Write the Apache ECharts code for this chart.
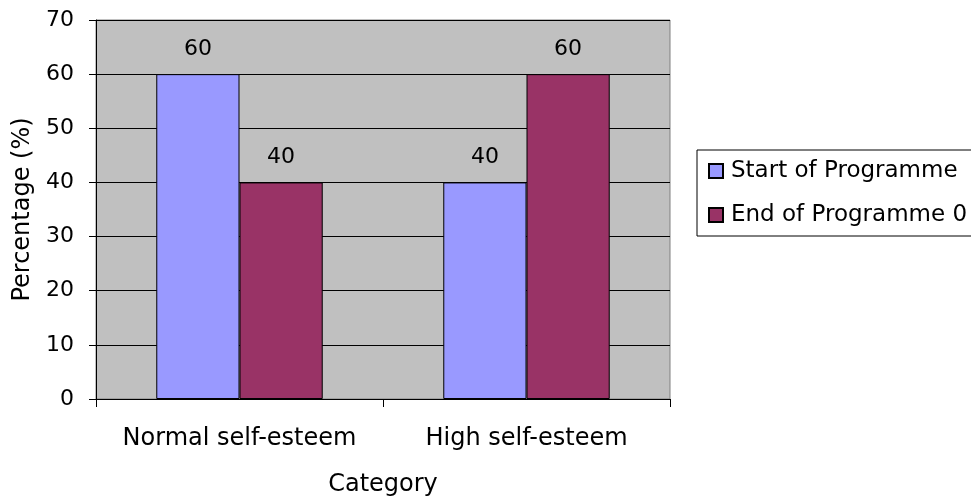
<!DOCTYPE html>
<html>
<head>
<meta charset="utf-8">
<script src="https://cdn.jsdelivr.net/npm/echarts@6/dist/echarts.min.js"></script>
<style>
  html, body { margin: 0; padding: 0; background: #fff; }
  #chart { width: 971px; height: 499px; }
</style>
</head>
<body>
<div id="chart"></div>
<script>
// Self-esteem category shares at the start and end of the programme
const categories = ['Normal self-esteem', 'High self-esteem'];
const startValues = [60, 40];
const endValues = [40, 60];
const seriesNames = ['Start of Programme', 'End of Programme 0'];
const yTicks = { min: 0, max: 70, interval: 10 };

const FONT = 'DejaVu Sans';

const chart = echarts.init(document.getElementById('chart'), null, { renderer: 'canvas' });

const barLabel = {
  show: true,
  position: 'top',
  distance: 14,
  color: '#000',
  fontFamily: FONT,
  fontSize: 22
};

chart.setOption({
  animation: false,
  backgroundColor: '#ffffff',
  textStyle: { fontFamily: FONT, color: '#000' },
  grid: {
    left: 96,
    right: 301,
    top: 20,
    bottom: 100,
    outerBoundsMode: 'none',
    containLabel: false,
    show: true,
    backgroundColor: '#C0C0C0',
    borderColor: '#808080',
    borderWidth: 1
  },
  legend: {
    orient: 'vertical',
    left: 697,
    top: 150,
    padding: [8, 30, 8, 11],
    itemWidth: 14,
    itemHeight: 14,
    itemGap: 18,
    borderColor: '#000',
    borderWidth: 1,
    icon: 'rect',
    textStyle: { fontFamily: FONT, fontSize: 23, color: '#000', lineHeight: 26, padding: [0, 0, 0, 3] },
    data: seriesNames
  },
  xAxis: {
    type: 'category',
    data: categories,
    name: 'Category',
    nameLocation: 'middle',
    nameGap: 74,
    nameTextStyle: { fontFamily: FONT, fontSize: 24, color: '#000' },
    axisLine: { lineStyle: { color: '#000', width: 1 } },
    axisTick: { show: true, interval: 0, length: 8, lineStyle: { color: '#000' } },
    axisLabel: { interval: 0, hideOverlap: false, margin: 28, fontFamily: FONT, fontSize: 24, color: '#000' },
    splitLine: { show: false }
  },
  yAxis: {
    type: 'value',
    min: yTicks.min,
    max: yTicks.max,
    interval: yTicks.interval,
    name: 'Percentage (%)',
    nameLocation: 'middle',
    nameGap: 60,
    nameTextStyle: { fontFamily: FONT, fontSize: 24, color: '#000' },
    axisLine: { show: true, lineStyle: { color: '#000', width: 1 } },
    axisTick: { show: true, length: 7, lineStyle: { color: '#000' } },
    axisLabel: { margin: 22, fontFamily: FONT, fontSize: 22, color: '#000' },
    splitLine: { show: true, lineStyle: { color: '#000', width: 1 } }
  },
  series: [
    {
      name: seriesNames[0],
      type: 'bar',
      data: startValues,
      barGap: '0%',
      barCategoryGap: '42%',
      itemStyle: { color: '#9999FF', borderColor: '#000', borderWidth: 1 },
      label: barLabel
    },
    {
      name: seriesNames[1],
      type: 'bar',
      data: endValues,
      barGap: '0%',
      barCategoryGap: '42%',
      itemStyle: { color: '#993366', borderColor: '#000', borderWidth: 1 },
      label: barLabel
    }
  ]
});
</script>
</body>
</html>
